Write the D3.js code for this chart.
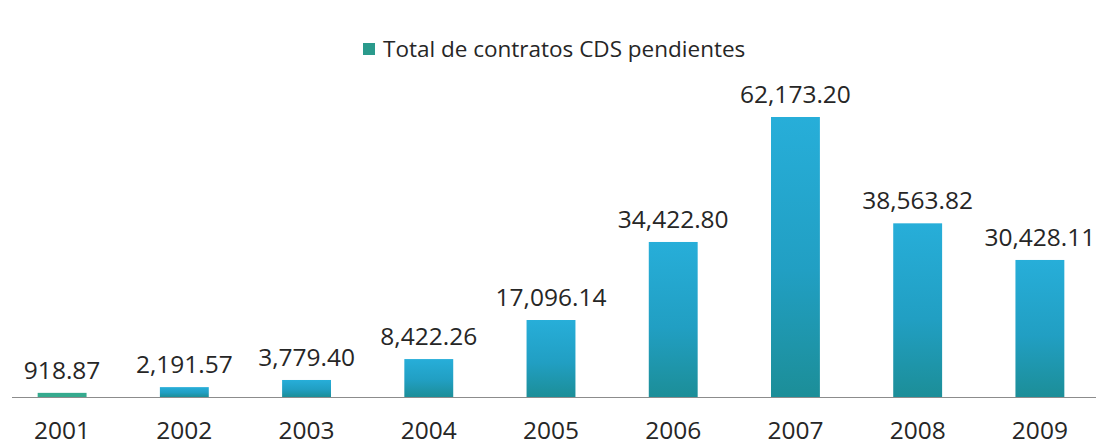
<!DOCTYPE html>
<html>
<head>
<meta charset="utf-8">
<script src="https://cdn.jsdelivr.net/npm/d3@7"></script>
<style>
  body { margin: 0; background: #fff; }
  svg text { font-family: "Open Sans", sans-serif; fill: #262626; }
</style>
</head>
<body>
<div id="chart"></div>
<script>
// data
const years = ['2001', '2002', '2003', '2004', '2005', '2006', '2007', '2008', '2009'];
const values = [918.87, 2191.57, 3779.40, 8422.26, 17096.14, 34422.80, 62173.20, 38563.82, 30428.11];
const seriesName = 'Total de contratos CDS pendientes';

const width = 1096, height = 445;
const baseY = 397;

const svg = d3.select('#chart').append('svg')
    .attr('width', width)
    .attr('height', height);

const defs = svg.append('defs');
const grad = defs.append('linearGradient')
    .attr('id', 'barGrad')
    .attr('x1', 0).attr('y1', 0).attr('x2', 0).attr('y2', 1);
grad.append('stop').attr('offset', '0%').attr('stop-color', '#27aed9');
grad.append('stop').attr('offset', '55%').attr('stop-color', '#219fc3');
grad.append('stop').attr('offset', '100%').attr('stop-color', '#1c8e98');

const x = d3.scaleBand()
    .domain(years)
    .range([1, 1101])
    .paddingInner(0.6)
    .paddingOuter(0.3);

const y = d3.scaleLinear()
    .domain([0, 62173.2])
    .range([baseY, 117]);

const data = years.map((yr, i) => ({ year: yr, value: values[i] }));

// bars
svg.selectAll('rect.bar')
    .data(data)
    .enter().append('rect')
    .attr('class', 'bar')
    .attr('x', d => x(d.year))
    .attr('y', d => y(d.value))
    .attr('width', x.bandwidth())
    .attr('height', d => baseY - y(d.value))
    .attr('fill', d => (baseY - y(d.value)) < 6 ? '#35aa8e' : 'url(#barGrad)');

// axis line
svg.append('line')
    .attr('x1', 12).attr('x2', width)
    .attr('y1', baseY + 0.5).attr('y2', baseY + 0.5)
    .attr('stroke', '#8c8c8c')
    .attr('stroke-width', 1.2);

// value labels
const fmt = d3.format(',.2f');
svg.selectAll('text.val')
    .data(data)
    .enter().append('text')
    .attr('class', 'val')
    .attr('x', d => x(d.year) + x.bandwidth() / 2)
    .attr('y', d => y(d.value) - 14)
    .attr('text-anchor', 'middle')
    .style('font-size', '24.5px')
    .text(d => fmt(d.value));

// category labels
svg.selectAll('text.cat')
    .data(years)
    .enter().append('text')
    .attr('class', 'cat')
    .attr('x', d => x(d) + x.bandwidth() / 2)
    .attr('y', 439)
    .attr('text-anchor', 'middle')
    .style('font-size', '24.5px')
    .text(d => d);

// legend
const legend = svg.append('g').attr('transform', 'translate(363,43)');
legend.append('rect')
    .attr('width', 12).attr('height', 12)
    .attr('fill', '#2a9a8c');
legend.append('text')
    .attr('x', 20).attr('y', 14)
    .style('font-size', '22.5px')
    .text(seriesName);
</script>
</body>
</html>
